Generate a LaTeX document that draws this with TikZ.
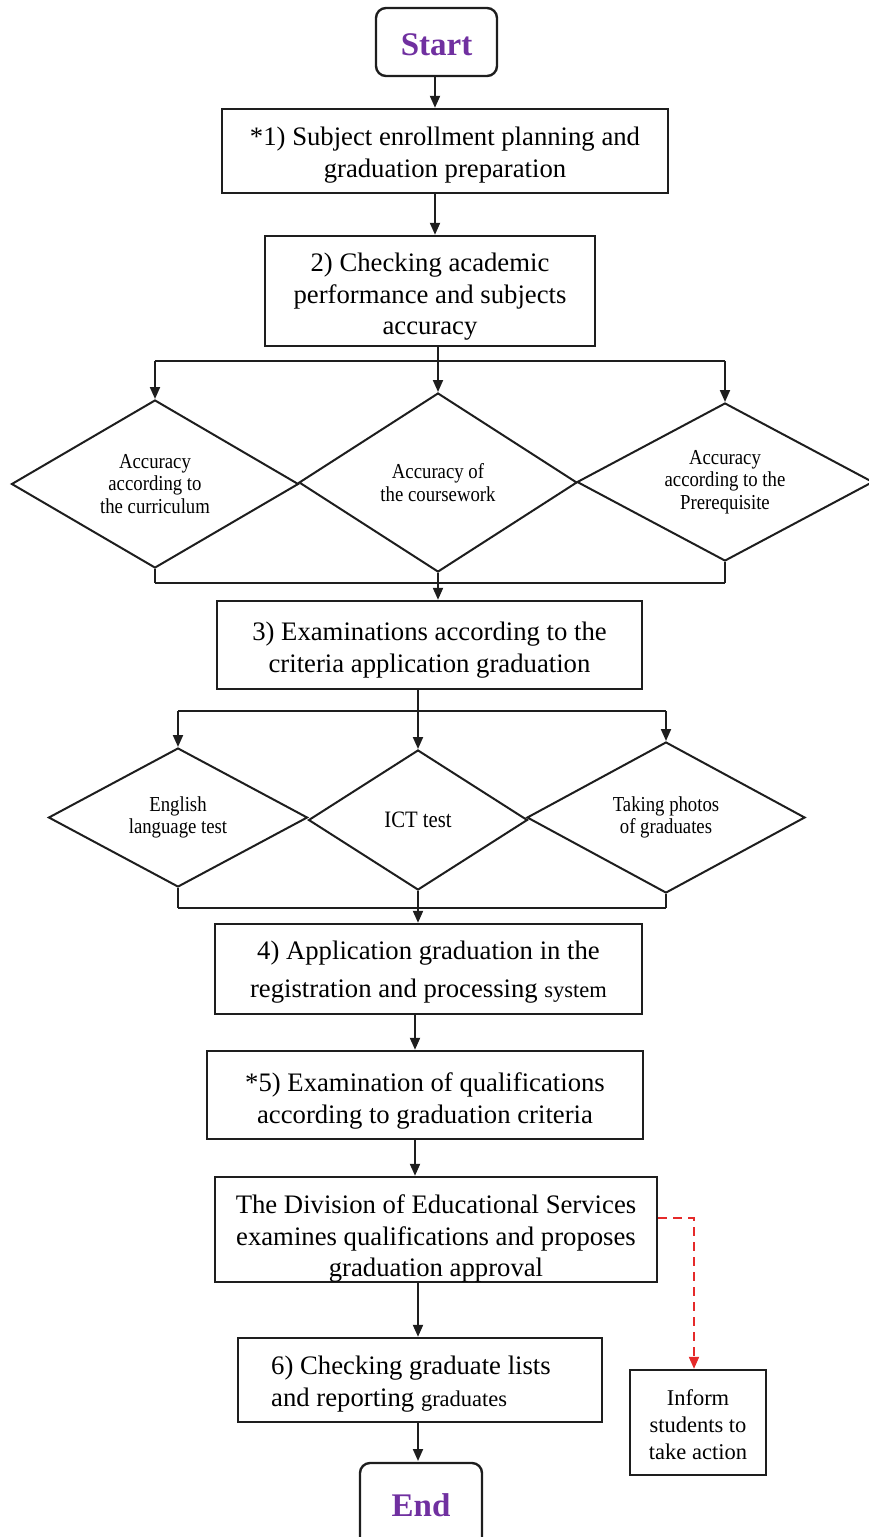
\documentclass[tikz,border=0pt]{standalone}
\usepackage{fontspec}
\setmainfont{Liberation Serif}
\newfontfamily\condfont[FakeStretch=0.88]{Liberation Serif}
\usetikzlibrary{shapes.geometric,arrows.meta}
\definecolor{startpurple}{HTML}{7030A0}
\definecolor{linecol}{HTML}{1E1E1E}
\definecolor{dashred}{HTML}{E52A2A}
\tikzset{
  procbox/.style={draw=linecol, line width=2.4pt, rectangle, inner sep=0pt, align=center,
    font=\fontsize{26.7}{31.5}\selectfont},
  termbox/.style={draw=linecol, line width=2.4pt, rectangle, rounded corners=10pt, inner sep=0pt,
    font=\fontsize{33}{36}\selectfont\bfseries, text=startpurple},
  decbox/.style={draw=linecol, line width=2pt, diamond, aspect=1.7, inner sep=0pt, align=center,
    font=\condfont\fontsize{21.3}{22.5}\selectfont},
  arr/.style={draw=linecol, line width=2pt, -{Triangle[length=12pt,width=10pt]}},
  conn/.style={draw=linecol, line width=2pt},
  redarr/.style={draw=dashred, line width=2pt, dash pattern=on 9pt off 6pt, -{Triangle[length=12pt,width=10pt]}},
}
\newcommand{\smallword}[1]{{\fontsize{22.5}{31.5}\selectfont #1}}
% lower a line visually without changing its reported size
\newcommand{\dn}[2]{\raisebox{-#1}[\height][\depth]{#2}}
\begin{document}
\begin{tikzpicture}[x=1pt,y=-1pt]
\useasboundingbox (0,0) rectangle (869,1537);
\clip (0,0) rectangle (869,1537);
% terminals and boxes
\node[termbox, minimum width=121pt, minimum height=68pt] (start) at (436.5,42) {\dn{3pt}{Start}};
\node[procbox, minimum width=446pt, minimum height=84pt] (b1) at (445,151) {\dn{4pt}{*1) Subject enrollment planning and}\\\dn{4pt}{graduation preparation}};
\node[procbox, minimum width=330pt, minimum height=110pt] (b2) at (430,291) {\dn{6pt}{2) Checking academic}\\\dn{6pt}{performance and subjects}\\\dn{6pt}{accuracy}};
% first diamonds
\node[decbox, minimum width=287pt, minimum height=168pt] (d1) at (155,484) {Accuracy\\according to\\the curriculum};
\node[decbox, minimum width=278pt, minimum height=179pt] (d2) at (438,482.5) {Accuracy of\\the coursework};
\node[decbox, minimum width=296pt, minimum height=158pt] (d3) at (725,482) {Accuracy\\according to the\\Prerequisite};
\node[procbox, minimum width=425pt, minimum height=88pt] (b3) at (429.5,645) {\dn{5pt}{3) Examinations according to the}\\\dn{5pt}{criteria application graduation}};
% second diamonds
\node[decbox, minimum width=259pt, minimum height=139pt] (d4) at (178,817.5) {English\\language test};
\node[decbox, minimum width=219pt, minimum height=140pt, font=\condfont\fontsize{23.5}{24}\selectfont] (d5) at (418,820) {ICT test};
\node[decbox, minimum width=278pt, minimum height=151pt] (d6) at (666,817.5) {Taking photos\\of graduates};
\node[procbox, minimum width=427pt, minimum height=90pt, font=\fontsize{26.7}{37.5}\selectfont] (b4) at (428.5,969) {\dn{3pt}{4) Application graduation in the}\\\dn{3pt}{registration and processing \smallword{system}}};
\node[procbox, minimum width=436pt, minimum height=88pt] (b5) at (425,1095) {\dn{6pt}{*5) Examination of qualifications}\\\dn{6pt}{according to graduation criteria}};
\node[procbox, minimum width=442pt, minimum height=105pt] (b6) at (436,1229.5) {\dn{9pt}{The Division of Educational Services}\\\dn{9pt}{examines qualifications and proposes}\\\dn{9pt}{graduation approval}};
\node[procbox, minimum width=364pt, minimum height=84pt, align=left] (b7) at (420,1380) {\dn{4pt}{6) Checking graduate lists}\hspace*{18pt}\\\dn{4pt}{and reporting \smallword{graduates}}};
\node[termbox, minimum width=122pt, minimum height=84pt] (end) at (421,1505) {End};
\node[procbox, minimum width=136pt, minimum height=105pt, font=\fontsize{22.5}{27}\selectfont] (inform) at (698,1422.5) {\dn{2pt}{Inform}\\\dn{2pt}{students to}\\\dn{2pt}{take action}};
% coordinates for junctions and vertical lanes
\coordinate (x435) at (435,0);
\coordinate (x415) at (415,0);
\coordinate (x418) at (418,0);
\coordinate (endtop) at (418,1461);
\coordinate (j1) at (438,361);
\coordinate (j1l) at (155,361);
\coordinate (j1r) at (725,361);
\coordinate (j2) at (438,583);
\coordinate (j2l) at (155,583);
\coordinate (j2r) at (725,583);
\coordinate (j3) at (418,711);
\coordinate (j3l) at (178,711);
\coordinate (j3r) at (666,711);
\coordinate (j4) at (418,908);
\coordinate (j4l) at (178,908);
\coordinate (j4r) at (666,908);
\coordinate (rc) at (694,1218);
% connectors
\draw[arr] (x435 |- start.south) -- (x435 |- b1.north);
\draw[arr] (x435 |- b1.south) -- (x435 |- b2.north);
\draw[conn] (j1 |- b2.south) -- (j1);
\draw[conn] (j1l) -- (j1r);
\draw[arr] (j1l) -- (d1.north);
\draw[arr] (j1) -- (d2.north);
\draw[arr] (j1r) -- (d3.north);
\draw[conn] (d1.south) -- (j2l);
\draw[conn] (d3.south) -- (j2r);
\draw[conn] (j2l) -- (j2r);
\draw[conn] (d2.south) -- (j2);
\draw[arr] (j2) -- (j2 |- b3.north);
\draw[conn] (j3 |- b3.south) -- (j3);
\draw[conn] (j3l) -- (j3r);
\draw[arr] (j3l) -- (d4.north);
\draw[arr] (j3) -- (d5.north);
\draw[arr] (j3r) -- (d6.north);
\draw[conn] (d4.south) -- (j4l);
\draw[conn] (d6.south) -- (j4r);
\draw[conn] (j4l) -- (j4r);
\draw[conn] (d5.south) -- (j4);
\draw[arr] (j4) -- (j4 |- b4.north);
\draw[arr] (x415 |- b4.south) -- (x415 |- b5.north);
\draw[arr] (x415 |- b5.south) -- (x415 |- b6.north);
\draw[arr] (x418 |- b6.south) -- (x418 |- b7.north);
\draw[arr] (x418 |- b7.south) -- (endtop);
\draw[redarr] (b6.east |- rc) -- (rc) -- (rc |- inform.north);
\end{tikzpicture}
\end{document}
